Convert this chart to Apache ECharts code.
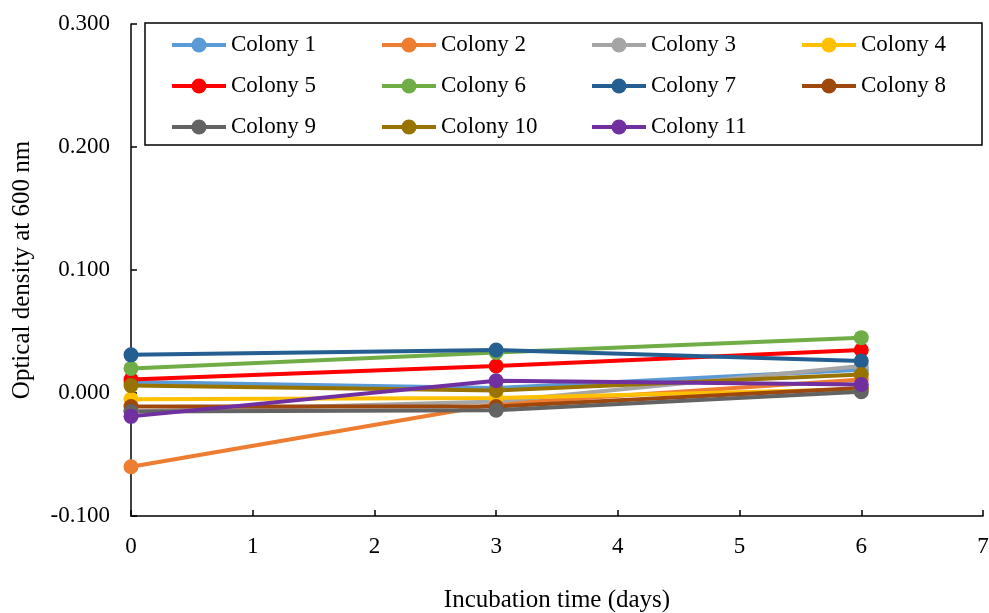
<!DOCTYPE html>
<html>
<head>
<meta charset="utf-8">
<script src="https://cdn.jsdelivr.net/npm/echarts@6/dist/echarts.min.js"></script>
<style>
  html, body { margin: 0; padding: 0; background: #fff; }
  #chart { width: 989px; height: 613px; }
</style>
</head>
<body>
<div id="chart"></div>
<script>
// incubation days
var days = [0, 3, 6]
// optical density per colony
var colony1 = [0.009, 0.004, 0.019]
var colony2 = [-0.060, -0.009, 0.011]
var colony3 = [-0.015, -0.007, 0.022]
var colony4 = [-0.005, -0.004, 0.003]
var colony5 = [0.011, 0.022, 0.035]
var colony6 = [0.020, 0.033, 0.045]
var colony7 = [0.031, 0.035, 0.026]
var colony8 = [-0.011, -0.011, 0.004]
var colony9 = [-0.015, -0.014, 0.001]
var colony10 = [0.006, 0.002, 0.015]
var colony11 = [-0.019, 0.010, 0.007]
var names = ['Colony 1', 'Colony 2', 'Colony 3', 'Colony 4', 'Colony 5', 'Colony 6',
             'Colony 7', 'Colony 8', 'Colony 9', 'Colony 10', 'Colony 11']
var values = [colony1, colony2, colony3, colony4, colony5, colony6,
              colony7, colony8, colony9, colony10, colony11]
var colors = ['#5B9BD5', '#ED7D31', '#A5A5A5', '#FFC000', '#FF0000', '#70AD47',
              '#255E91', '#9E480E', '#636363', '#997300', '#7030A0']

var font = 'Liberation Serif'
var chart = echarts.init(document.getElementById('chart'))

var series = names.map(function (n, i) {
    return {
        name: n,
        type: 'line',
        data: days.map(function (d, j) { return [d, values[i][j]] }),
        symbol: 'circle',
        symbolSize: 15,
        lineStyle: { width: 4, color: colors[i] },
        itemStyle: { color: colors[i] },
        emphasis: { disabled: true }
    }
})

// one legend per column so items line up like the original
var colLeft = [165, 375, 585, 795]
var legends = colLeft.map(function (x, c) {
    var items = []
    for (var i = c; i < names.length; i += 4) items.push(names[i])
    return {
        orient: 'vertical',
        left: x,
        top: 28,
        itemWidth: 54,
        itemHeight: 19,
        itemGap: 17,
        data: items,
        lineStyle: { width: 4 },
        textStyle: { fontFamily: font, fontSize: 23, color: '#000', lineHeight: 24 },
        selectedMode: false
    }
})

var option = {
    animation: false,
    backgroundColor: '#fff',
    grid: { left: 131, right: 6, top: 24, bottom: 97, outerBoundsMode: 'none' },
    legend: legends,
    graphic: [{
        type: 'rect',
        shape: { x: 145, y: 23, width: 837, height: 122 },
        style: { fill: '#fff', stroke: '#000', lineWidth: 1.5 },
        z: 0
    }],
    xAxis: {
        type: 'value',
        min: 0,
        max: 7,
        interval: 1,
        name: 'Incubation time (days)',
        nameLocation: 'middle',
        nameGap: 72,
        nameTextStyle: { fontFamily: font, fontSize: 25, color: '#000' },
        axisLine: { onZero: false, lineStyle: { color: '#000', width: 1.5 } },
        axisTick: { inside: true, length: 6, lineStyle: { color: '#000', width: 1.5 } },
        axisLabel: { fontFamily: font, fontSize: 23, color: '#000', margin: 19 },
        splitLine: { show: false }
    },
    yAxis: {
        type: 'value',
        min: -0.1,
        max: 0.3,
        interval: 0.1,
        name: 'Optical density at 600 nm',
        nameLocation: 'middle',
        nameGap: 96,
        nameTextStyle: { fontFamily: font, fontSize: 25, color: '#000' },
        axisLine: { show: true, onZero: false, lineStyle: { color: '#000', width: 1.5 } },
        axisTick: { show: true, inside: true, length: 6, lineStyle: { color: '#000', width: 1.5 } },
        axisLabel: {
            fontFamily: font, fontSize: 23, color: '#000', margin: 21,
            formatter: function (v) { return v.toFixed(3) }
        },
        splitLine: { show: false }
    },
    series: series
}
chart.setOption(option)
</script>
</body>
</html>
